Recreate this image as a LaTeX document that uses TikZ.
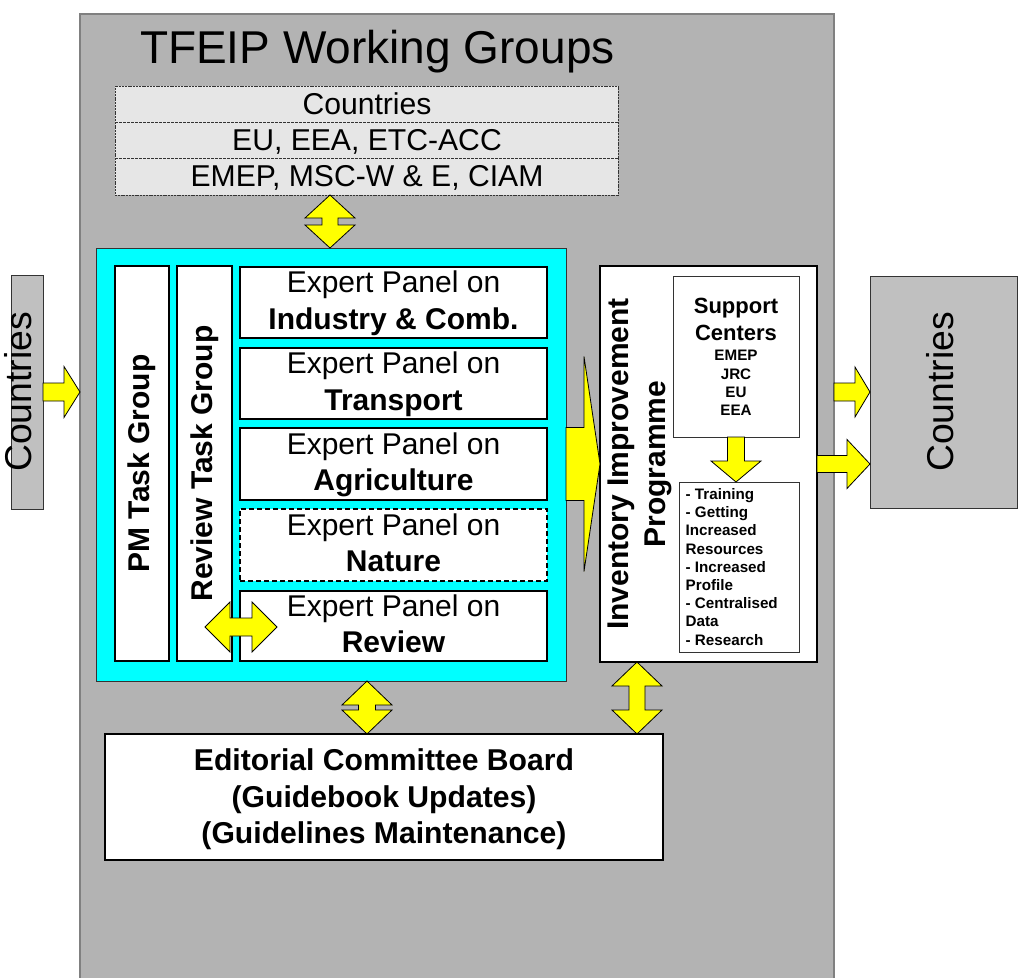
\documentclass[tikz,border=0pt]{standalone}
\usepackage{fontspec}
\setmainfont{Liberation Sans}
\usetikzlibrary{calc,fit}

% one drawing unit = one pixel of the final 1018 x 978 picture
\newcommand\pxu{0.75pt}
\newcommand\fsz[2]{\fontsize{#1}{#2}\selectfont}

\definecolor{wgray}{HTML}{B3B3B3}
\definecolor{cgray}{HTML}{C0C0C0}
\definecolor{tgray}{HTML}{E6E6E6}
\definecolor{edgec}{HTML}{333333}
\definecolor{panelcyan}{HTML}{00FFFF}
\definecolor{arrowyellow}{HTML}{FFFF00}

\tikzset{
  area/.style={fit={#1}, inner sep=0pt, outer sep=0pt},
  thinbox/.style={draw=edgec, line width=0.6pt},
  heavybox/.style={draw=black, line width=1.5pt, fill=white},
  txt/.style={inner sep=0pt, outer sep=0pt},
  paneltxt/.style={txt, anchor=base, font=\fsz{22.5}{27}},
  panelbold/.style={paneltxt, font=\bfseries\fsz{22.5}{27}},
  edtxt/.style={txt, anchor=base, font=\bfseries\fsz{22.6}{27}},
  iiptxt/.style={txt, anchor=base, rotate=90, font=\bfseries\fsz{22.5}{27}},
  sctxt/.style={txt, anchor=base, font=\bfseries\fsz{16.5}{20}},
  scsmall/.style={txt, anchor=base, font=\bfseries\fsz{11.4}{13.7}},
  blockarrow/.style={fill=arrowyellow, draw=black, line width=0.6pt, line join=miter},
}

% right-pointing block arrow: #1 tail, #2 tip; shaft half, head half, head length (px)
\newcommand\harrow[5]{%
  \path[blockarrow] let \p1=(#1), \p2=(#2) in
    (\x1,{\y2+#3*\pxu}) -- ({\x2-#5*\pxu},{\y2+#3*\pxu}) -- ({\x2-#5*\pxu},{\y2+#4*\pxu})
    -- (\x2,\y2) -- ({\x2-#5*\pxu},{\y2-#4*\pxu}) -- ({\x2-#5*\pxu},{\y2-#3*\pxu})
    -- (\x1,{\y2-#3*\pxu}) -- cycle;}
% downward block arrow: #1 tail, #2 tip
\newcommand\varrow[5]{%
  \path[blockarrow] let \p1=(#1), \p2=(#2) in
    ({\x1-#3*\pxu},\y1) -- ({\x1+#3*\pxu},\y1) -- ({\x1+#3*\pxu},{\y2+#5*\pxu})
    -- ({\x1+#4*\pxu},{\y2+#5*\pxu}) -- (\x1,\y2) -- ({\x1-#4*\pxu},{\y2+#5*\pxu})
    -- ({\x1-#3*\pxu},{\y2+#5*\pxu}) -- cycle;}
% vertical double block arrow: #1 upper tip, #2 lower tip
\newcommand\vdouble[5]{%
  \path[blockarrow] let \p1=(#1), \p2=(#2) in
    (\x1,\y1) -- ({\x1+#4*\pxu},{\y1-#5*\pxu}) -- ({\x1+#3*\pxu},{\y1-#5*\pxu})
    -- ({\x1+#3*\pxu},{\y2+#5*\pxu}) -- ({\x1+#4*\pxu},{\y2+#5*\pxu}) -- (\x1,\y2)
    -- ({\x1-#4*\pxu},{\y2+#5*\pxu}) -- ({\x1-#3*\pxu},{\y2+#5*\pxu})
    -- ({\x1-#3*\pxu},{\y1-#5*\pxu}) -- ({\x1-#4*\pxu},{\y1-#5*\pxu}) -- cycle;}
% horizontal double block arrow: #1 left tip, #2 right tip
\newcommand\hdouble[5]{%
  \path[blockarrow] let \p1=(#1), \p2=(#2) in
    (\x1,\y1) -- ({\x1+#5*\pxu},{\y1+#4*\pxu}) -- ({\x1+#5*\pxu},{\y1+#3*\pxu})
    -- ({\x2-#5*\pxu},{\y1+#3*\pxu}) -- ({\x2-#5*\pxu},{\y1+#4*\pxu}) -- (\x2,\y1)
    -- ({\x2-#5*\pxu},{\y1-#4*\pxu}) -- ({\x2-#5*\pxu},{\y1-#3*\pxu})
    -- ({\x1+#5*\pxu},{\y1-#3*\pxu}) -- ({\x1+#5*\pxu},{\y1-#4*\pxu}) -- cycle;}

\begin{document}
\begin{tikzpicture}[x=0.75pt,y=-0.75pt]
\useasboundingbox (0,0) rectangle (1018,978);
\clip (0,0) rectangle (1018,978);

% working-group frame
\node[area={(80,14) (834,992)}, fill=wgray, draw=gray, line width=0.8pt] (main) {};
\node[txt, anchor=base west, font=\fsz{34.5}{40}] (title) at (140,63) {TFEIP Working Groups};

% countries on both sides
\node[area={(11,275) (43,509)}, fill=cgray, thinbox] (lc) {};
\node[txt, rotate=90, font=\fsz{28}{32}, text height=0.716em, text depth=0pt] (lctxt) at (26.7,392) {Countries};
\node[area={(870,276) (1017,508)}, fill=cgray, thinbox] (rc) {};
\node[txt, rotate=90, font=\fsz{28}{32}, text height=0.716em, text depth=0pt] (rctxt) at (949,392) {Countries};

% participants table
\node[area={(115,86) (618,122)}, fill=tgray] (r1) {};
\node[area={(115,122) (618,158)}, fill=tgray] (r2) {};
\node[area={(115,158) (618,195)}, fill=tgray] (r3) {};
\node[area={(115,86) (618,195)}, draw=edgec, line width=0.6pt, dash pattern=on 1.5pt off 0.6pt] (tbl) {};
\draw[edgec, line width=0.5pt, dash pattern=on 2pt off 1pt] (r1.south west) -- (r1.south east);
\draw[edgec, line width=0.5pt, dash pattern=on 2pt off 1pt] (r2.south west) -- (r2.south east);
\node[txt, anchor=base, font=\fsz{22.6}{26}] (r1txt) at (367,114) {Countries};
\node[txt, anchor=base, font=\fsz{22.6}{26}] (r2txt) at (367,150) {EU, EEA, ETC-ACC};
\node[txt, anchor=base, font=\fsz{22.6}{26}] (r3txt) at (367,186) {EMEP, MSC-W \& E, CIAM};

% task groups and expert panels
\node[area={(96,248) (566,681)}, fill=panelcyan, thinbox] (cyan) {};
\node[area={(115,266) (169,661)}, heavybox] (pm) {};
\node[txt, rotate=90, font=\bfseries\fsz{22.5}{27}] (pmtxt) at (pm.center) {PM Task Group};
\node[area={(177,266) (232,661)}, heavybox] (rtg) {};
\node[txt, rotate=90, font=\bfseries\fsz{22.5}{27}] (rtgtxt) at (rtg.center) {Review Task Group};

\node[area={(240,267) (547,338)}, heavybox] (ep1) {};
\node[area={(240,348) (547,419)}, heavybox] (ep2) {};
\node[area={(240,428) (547,500)}, heavybox] (ep3) {};
\node[area={(240,509) (547,581)}, heavybox, dash pattern=on 3.75pt off 2.25pt] (ep4) {};
\node[area={(240,591) (547,661)}, heavybox] (ep5) {};
\node[paneltxt] (ep1a) at ($(ep1.center)+(0,-9.7)$) {Expert Panel on};
\node[panelbold] (ep1b) at ($(ep1.center)+(0,26.6)$) {Industry \& Comb.};
\node[paneltxt] (ep2a) at ($(ep2.center)+(0,-9.7)$) {Expert Panel on};
\node[panelbold] (ep2b) at ($(ep2.center)+(0,26.6)$) {Transport};
\node[paneltxt] (ep3a) at ($(ep3.center)+(0,-9.7)$) {Expert Panel on};
\node[panelbold] (ep3b) at ($(ep3.center)+(0,26.6)$) {Agriculture};
\node[paneltxt] (ep4a) at ($(ep4.center)+(0,-9.7)$) {Expert Panel on};
\node[panelbold] (ep4b) at ($(ep4.center)+(0,26.6)$) {Nature};
\node[paneltxt] (ep5a) at ($(ep5.center)+(0,-9.7)$) {Expert Panel on};
\node[panelbold] (ep5b) at ($(ep5.center)+(0,26.6)$) {Review};

% inventory improvement programme
\node[area={(600,266) (817,662)}, heavybox] (iip) {};
\node[iiptxt] (iipa) at (628,464) {Inventory Improvement};
\node[iiptxt] (iipb) at (665,464) {Programme};
\node[area={(673,276) (799,437)}, thinbox, fill=white] (sc) {};
\node[sctxt] (sca) at (736,313) {Support};
\node[sctxt] (scb) at (736,340.7) {Centers};
\node[scsmall] (scm1) at (736,360.7) {EMEP};
\node[scsmall] (scm2) at (736,379.2) {JRC};
\node[scsmall] (scm3) at (736,397.5) {EU};
\node[scsmall] (scm4) at (736,415.7) {EEA};
\node[area={(679,482) (799,652)}, thinbox, fill=white] (lst) {};
\node[txt, anchor=north west, align=left, font=\bfseries\fsz{11.4}{13.65}] (lsttxt) at (685.7,488.4)
  {- Training\\- Getting\\Increased\\Resources\\- Increased\\Profile\\- Centralised\\Data\\- Research};

% editorial board
\node[area={(105,734) (663,860)}, heavybox] (ed) {};
\node[edtxt] (eda) at (384,770) {Editorial Committee Board};
\node[edtxt] (edb) at (384,807) {(Guidebook Updates)};
\node[edtxt] (edc) at (384,843) {(Guidelines Maintenance)};

% block arrows
\coordinate (ax1) at (330,0);
\coordinate (ax2) at (367,0);
\coordinate (ax3) at (637,0);
\coordinate (rvl) at (205,627);
\coordinate (rvr) at (277,627);

\harrow{lc.east}{main.west |- lc.east}{9}{25.5}{16}
\vdouble{tbl.south -| ax1}{cyan.north -| ax1}{8}{25}{23}
\hdouble{rvl}{rvr}{9}{25}{25}
\harrow{cyan.east |- iip.west}{iip.west}{36.5}{107.5}{16}
\varrow{sc.south}{lst.north -| sc.south}{8.5}{25}{21}
\harrow{main.east |- rc.west}{rc.west}{9}{25}{15}
\harrow{iip.east}{rc.west |- iip.east}{8.5}{24.5}{23}
\vdouble{cyan.south -| ax2}{ed.north -| ax2}{8.5}{25}{24}
\vdouble{iip.south -| ax3}{ed.north -| ax3}{8}{25}{24}
\end{tikzpicture}
\end{document}
